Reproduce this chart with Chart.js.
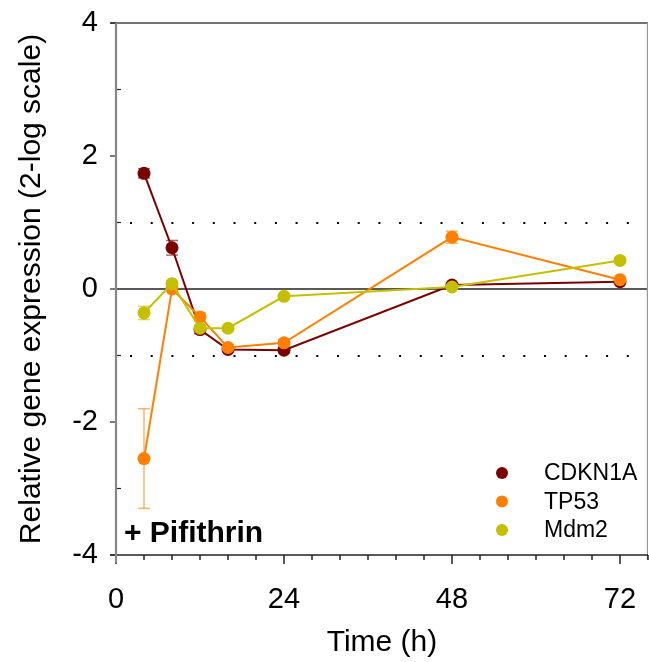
<!DOCTYPE html>
<html>
<head>
<meta charset="utf-8">
<title>Relative gene expression</title>
<script src="https://cdn.jsdelivr.net/npm/chart.js@4.4.0/dist/chart.umd.min.js"></script>
<style>
  html, body { margin: 0; padding: 0; background: #fff; }
  #wrap { position: relative; width: 649px; height: 662px; }
</style>
</head>
<body>
<div id="wrap"><canvas id="expressionChart"></canvas></div>
<script>
// Sampling times (h)
const timePoints = [4, 8, 12, 16, 24, 48, 72];

// log2 relative expression: mean and error per time point
const cdkn1aMean = [1.74, 0.62, -0.61, -0.91, -0.92, 0.06, 0.11];
const cdkn1aErr  = [0.07, 0.11, 0.06, 0.03, 0.03, 0.03, 0.03];
const tp53Mean   = [-2.55, 0.0, -0.42, -0.88, -0.81, 0.78, 0.14];
const tp53Err    = [0.75, 0.03, 0.06, 0.04, 0.04, 0.09, 0.03];
const mdm2Mean   = [-0.36, 0.08, -0.59, -0.59, -0.11, 0.03, 0.43];
const mdm2Err    = [0.10, 0.04, 0.04, 0.03, 0.03, 0.03, 0.03];

const seriesNames = ['CDKN1A', 'TP53', 'Mdm2'];
const xTickValues = [0, 24, 48, 72];
const yTickValues = [-4, -2, 0, 2, 4];
const guideLevels = [-1, 1];

const FONT = "'Liberation Sans', Arial, sans-serif";
const colors = ['#7a0000', '#ff8000', '#c4c000'];
const errColors = ['rgba(122, 0, 0, 0.6)', 'rgba(255, 128, 0, 0.6)', 'rgba(196, 192, 0, 0.6)'];

function makeSeries(idx, means, errors) {
  return {
    label: seriesNames[idx],
    data: timePoints.map((t, i) => ({ x: t, y: means[i] })),
    errors: errors,
    errColor: errColors[idx],
    borderColor: colors[idx],
    backgroundColor: colors[idx],
    borderWidth: 2,
    pointRadius: 6.5,
    pointHoverRadius: 6.5,
    pointBorderWidth: 0,
    tension: 0,
    clip: false,
    order: 3 - idx
  };
}

function strokeLine(ctx, x1, y1, x2, y2) {
  ctx.beginPath();
  ctx.moveTo(x1, y1);
  ctx.lineTo(x2, y2);
  ctx.stroke();
}

// Frame, tick marks, tick labels, guide lines and error bars behind the data
const framePlugin = {
  id: 'framePlugin',
  beforeDatasetsDraw(chart) {
    const { ctx, chartArea: a, scales: { x, y } } = chart;
    ctx.save();

    // dotted guides
    ctx.strokeStyle = '#000';
    ctx.lineWidth = 2;
    ctx.setLineDash([2, 18.7]);
    guideLevels.forEach(v => {
      const py = Math.round(y.getPixelForValue(v));
      strokeLine(ctx, a.left + 14, py, a.right, py);
    });
    ctx.setLineDash([]);

    // zero line
    ctx.strokeStyle = '#222';
    ctx.lineWidth = 1.5;
    const y0 = y.getPixelForValue(0);
    strokeLine(ctx, a.left, y0, a.right, y0);

    // top and right frame
    ctx.strokeStyle = '#444';
    ctx.lineWidth = 1.5;
    strokeLine(ctx, a.left - 6, a.top, a.right, a.top);
    ctx.strokeStyle = '#999';
    ctx.lineWidth = 1.2;
    strokeLine(ctx, a.right - 0.6, a.top, a.right - 0.6, a.bottom + 5);

    // x axis with ticks every 4 h
    ctx.strokeStyle = '#222';
    ctx.lineWidth = 1.5;
    strokeLine(ctx, a.left - 6, a.bottom, a.right, a.bottom);
    for (let t = 0; t <= 76; t += 4) {
      const px = x.getPixelForValue(t);
      const len = xTickValues.includes(t) ? 9 : 5;
      strokeLine(ctx, px, a.bottom, px, a.bottom + len);
    }

    // y axis: major ticks outside, minor ticks inside
    ctx.strokeStyle = '#222';
    ctx.lineWidth = 1.2;
    for (let v = -4; v <= 4; v++) {
      const py = y.getPixelForValue(v);
      if (yTickValues.includes(v)) strokeLine(ctx, a.left - 6, py, a.left, py);
      else strokeLine(ctx, a.left, py, a.left + 5, py);
    }
    ctx.strokeStyle = '#888';
    ctx.lineWidth = 2.2;
    strokeLine(ctx, a.left, a.top, a.left, a.bottom + 8);

    // tick labels
    ctx.fillStyle = '#000';
    ctx.font = '29px ' + FONT;
    ctx.textAlign = 'center';
    ctx.textBaseline = 'middle';
    xTickValues.forEach(v => ctx.fillText(String(v), x.getPixelForValue(v), a.bottom + 45));
    ctx.textAlign = 'right';
    yTickValues.forEach(v => ctx.fillText(String(v), a.left - 18, y.getPixelForValue(v)));

    // error bars
    ctx.lineWidth = 1.5;
    chart.data.datasets.forEach(ds => {
      ctx.strokeStyle = ds.errColor;
      ds.data.forEach((p, i) => {
        const e = ds.errors[i];
        const px = x.getPixelForValue(p.x);
        const top = y.getPixelForValue(p.y + e);
        const bot = y.getPixelForValue(p.y - e);
        strokeLine(ctx, px, top, px, bot);
        strokeLine(ctx, px - 6, top, px + 6, top);
        strokeLine(ctx, px - 6, bot, px + 6, bot);
      });
    });
    ctx.restore();
  },
  afterDraw(chart) {
    const { ctx, chartArea: a } = chart;
    ctx.save();

    // treatment label
    ctx.fillStyle = '#000';
    ctx.font = 'bold 30px ' + FONT;
    ctx.textAlign = 'left';
    ctx.textBaseline = 'alphabetic';
    ctx.fillText('+ Pifithrin', a.left + 8, a.bottom - 13);

    // legend
    ctx.font = '23px ' + FONT;
    ctx.textBaseline = 'middle';
    chart.data.datasets.forEach((ds, i) => {
      const ly = a.bottom - 82 + i * 28.5;
      ctx.fillStyle = ds.backgroundColor;
      ctx.beginPath();
      ctx.arc(a.right - 146, ly, 6, 0, Math.PI * 2);
      ctx.fill();
      ctx.fillStyle = '#000';
      ctx.fillText(ds.label, a.right - 104, ly + 1);
    });
    ctx.restore();
  }
};

new Chart(document.getElementById('expressionChart'), {
  type: 'line',
  data: {
    datasets: [
      makeSeries(0, cdkn1aMean, cdkn1aErr),
      makeSeries(1, tp53Mean, tp53Err),
      makeSeries(2, mdm2Mean, mdm2Err)
    ]
  },
  options: {
    responsive: true,
    maintainAspectRatio: false,
    animation: false,
    layout: { autoPadding: false, padding: { top: 23, right: 1, left: 0, bottom: 0 } },
    plugins: {
      legend: { display: false },
      tooltip: { enabled: false }
    },
    scales: {
      x: {
        type: 'linear',
        min: 0,
        max: 76,
        grid: { display: false },
        border: { display: false },
        ticks: { display: false },
        afterFit: s => { s.height = 107; },
        title: {
          display: true,
          text: 'Time (h)',
          color: '#000',
          font: { family: FONT, size: 30 },
          padding: { top: 0, bottom: 1 }
        }
      },
      y: {
        type: 'linear',
        min: -4,
        max: 4,
        grid: { display: false },
        border: { display: false },
        ticks: { display: false },
        afterFit: s => { s.width = 116; },
        title: {
          display: true,
          text: 'Relative gene expression (2-log scale)',
          color: '#000',
          font: { family: FONT, size: 30 },
          padding: { top: 14, bottom: 0 }
        }
      }
    }
  },
  plugins: [framePlugin]
});
</script>
</body>
</html>
